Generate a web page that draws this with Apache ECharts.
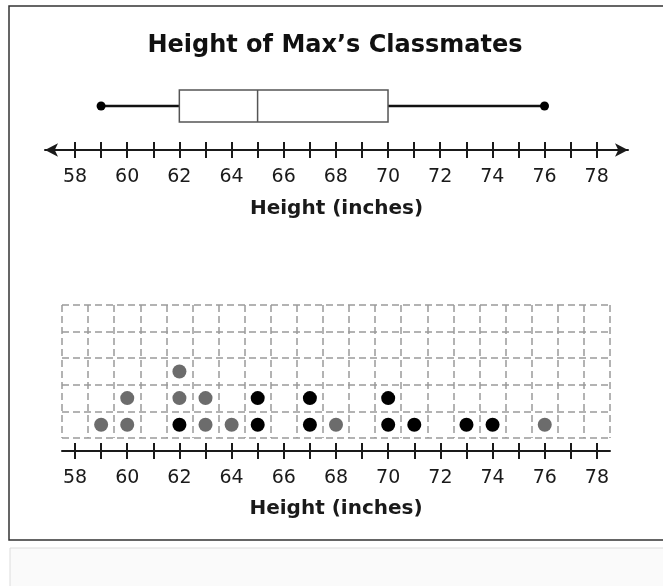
<!DOCTYPE html>
<html>
<head>
<meta charset="utf-8">
<script src="https://cdn.jsdelivr.net/npm/echarts@6/dist/echarts.min.js"></script>
<style>
  html, body { margin: 0; padding: 0; background: #fff; }
  #chart { width: 663px; height: 586px; }
</style>
</head>
<body>
<div id="chart"></div>
<script>
// 数据
const tickValues = [58, 59, 60, 61, 62, 63, 64, 65, 66, 67, 68, 69, 70, 71, 72, 73, 74, 75, 76, 77, 78]
const labelValues = [58, 60, 62, 64, 66, 68, 70, 72, 74, 76, 78]
const gridColumns = tickValues.map(String)
// min, Q1, median, Q3, max
const boxStats = [59, 62, 65, 70, 76]
const blackHeights = [62, 65, 65, 67, 67, 70, 70, 71, 73, 74]
const grayHeights = [59, 60, 60, 62, 62, 63, 63, 64, 68, 76]

const FONT = 'DejaVu Sans'
const INK = '#1a1a1a'

// 点图堆叠：黑点先放底层
const counts = {}
const stackDots = (heights) => heights.map(h => {
  const level = counts[h] || 0
  counts[h] = level + 1
  return [h, level + 0.5]
})
const blackDots = stackDots(blackHeights)
const grayDots = stackDots(grayHeights)

const chart = echarts.init(document.getElementById('chart'), null, { renderer: 'canvas' })

const nameStyle = { fontFamily: FONT, fontSize: 20, fontWeight: 'bold', color: INK }
const labelStyle = { fontFamily: FONT, fontSize: 19, color: INK, margin: 18 }
const tickStyle = { color: INK, width: 2 }

const option = {
  backgroundColor: '#fff',
  animation: false,
  graphic: [
    {
      type: 'rect', z: -10, silent: true,
      shape: { x: 9, y: 6, width: 670, height: 534 },
      style: { fill: '#fff', stroke: '#333', lineWidth: 1.5 }
    },
    {
      type: 'rect', z: -10, silent: true,
      shape: { x: 10, y: 548, width: 670, height: 60 },
      style: { fill: '#fafafa', stroke: '#dcdcdc', lineWidth: 1 }
    },
    {
      type: 'text', silent: true,
      x: 335, y: 46,
      style: {
        text: 'Height of Max’s Classmates',
        font: 'bold 24px "DejaVu Sans"',
        fill: '#111',
        align: 'center',
        verticalAlign: 'middle'
      }
    }
  ],
  grid: [
    { left: 45, width: 583, top: 62, height: 88 },
    { left: 62, width: 548, top: 305, height: 133 }
  ],
  xAxis: [
    // 箱线图数轴（带箭头）
    {
      type: 'value', gridIndex: 0, position: 'bottom', min: 56.85, max: 79.2,
      axisLine: { show: true, symbol: ['arrow', 'arrow'], symbolSize: [10, 13], lineStyle: { color: INK, width: 2 } },
      axisTick: { show: true, inside: false, length: 8, customValues: tickValues, lineStyle: tickStyle },
      axisLabel: { show: true, customValues: labelValues, ...labelStyle },
      splitLine: { show: false },
      name: 'Height (inches)', nameLocation: 'middle', nameGap: 49, nameTextStyle: nameStyle
    },
    {
      type: 'value', gridIndex: 0, position: 'bottom', min: 56.85, max: 79.2,
      axisLine: { show: false },
      axisTick: { show: true, inside: true, length: 8, customValues: tickValues, lineStyle: tickStyle },
      axisLabel: { show: false },
      splitLine: { show: false }
    },
    // 点图网格
    {
      type: 'category', gridIndex: 1, position: 'bottom', data: gridColumns, boundaryGap: true,
      axisLine: { show: false }, axisTick: { show: false }, axisLabel: { show: false },
      splitLine: { show: true, interval: 0, lineStyle: { color: '#9a9a9a', width: 1.5, type: [7, 4] } }
    },
    // 点图数轴
    {
      type: 'value', gridIndex: 1, position: 'bottom', min: 57.5, max: 78.5, offset: 13,
      axisLine: { show: true, lineStyle: { color: INK, width: 2 } },
      axisTick: { show: true, inside: false, length: 8, customValues: tickValues, lineStyle: tickStyle },
      axisLabel: { show: true, customValues: labelValues, ...labelStyle },
      splitLine: { show: false },
      name: 'Height (inches)', nameLocation: 'middle', nameGap: 48, nameTextStyle: nameStyle
    },
    {
      type: 'value', gridIndex: 1, position: 'bottom', min: 57.5, max: 78.5, offset: 13,
      axisLine: { show: false },
      axisTick: { show: true, inside: true, length: 8, customValues: tickValues, lineStyle: tickStyle },
      axisLabel: { show: false },
      splitLine: { show: false }
    }
  ],
  yAxis: [
    {
      type: 'category', gridIndex: 0, data: [''],
      axisLine: { show: false }, axisTick: { show: false }, axisLabel: { show: false }, splitLine: { show: false }
    },
    {
      type: 'value', gridIndex: 1, min: 0, max: 5, interval: 1,
      axisLine: { show: false }, axisTick: { show: false }, axisLabel: { show: false },
      splitLine: { show: true, lineStyle: { color: '#9a9a9a', width: 1.5, type: [7, 4] } }
    }
  ],
  series: [
    {
      type: 'custom',
      xAxisIndex: 0,
      yAxisIndex: 0,
      data: [boxStats],
      encode: { x: [0, 1, 2, 3, 4] },
      renderItem: (params, api) => {
        const px = i => api.coord([api.value(i), 0])[0]
        const y = api.coord([api.value(0), 0])[1]
        const half = 16
        const whisker = { stroke: '#111', lineWidth: 2.5 }
        const box = { stroke: '#555', lineWidth: 1.5, fill: '#fff' }
        return {
          type: 'group',
          children: [
            { type: 'line', shape: { x1: px(0), y1: y, x2: px(1), y2: y }, style: whisker },
            { type: 'line', shape: { x1: px(3), y1: y, x2: px(4), y2: y }, style: whisker },
            { type: 'rect', shape: { x: px(1), y: y - half, width: px(3) - px(1), height: half * 2 }, style: box },
            { type: 'line', shape: { x1: px(2), y1: y - half, x2: px(2), y2: y + half }, style: box },
            { type: 'circle', shape: { cx: px(0), cy: y, r: 4.5 }, style: { fill: '#000' } },
            { type: 'circle', shape: { cx: px(4), cy: y, r: 4.5 }, style: { fill: '#000' } }
          ]
        }
      }
    },
    {
      type: 'scatter', xAxisIndex: 3, yAxisIndex: 1,
      data: blackDots, symbolSize: 14,
      itemStyle: { color: '#000', opacity: 1 }
    },
    {
      type: 'scatter', xAxisIndex: 3, yAxisIndex: 1,
      data: grayDots, symbolSize: 14,
      itemStyle: { color: '#6c6c6c', opacity: 1 }
    }
  ]
}

chart.setOption(option)
</script>
</body>
</html>
